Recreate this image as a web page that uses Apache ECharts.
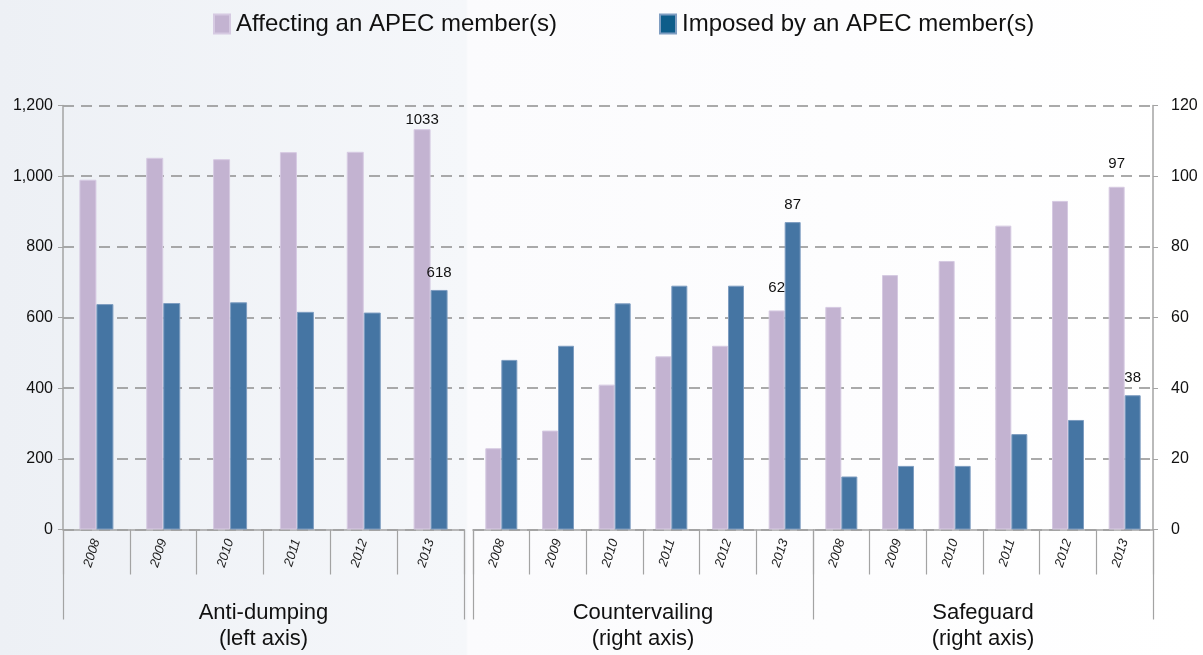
<!DOCTYPE html>
<html>
<head>
<meta charset="utf-8">
<script src="https://cdn.jsdelivr.net/npm/echarts@6/dist/echarts.min.js"></script>
<style>
html, body {
    margin: 0;
    padding: 0;
}
body {
    width: 1203px;
    height: 655px;
    background: linear-gradient(to right, #edf0f5 0px, #f5f7fa 466px, #fbfbfd 468px, #ffffff 1203px);
}
#chart {
    width: 1203px;
    height: 655px;
}
</style>
</head>
<body>
<div id="chart"></div>
<script>
// data
var years = ['2008', '2009', '2010', '2011', '2012', '2013'];
var leftGroups = ['Anti-dumping\n(left axis)'];
var rightGroups = ['Countervailing\n(right axis)', 'Safeguard\n(right axis)'];

var antiAffecting = [990, 1052, 1048, 1068, 1069, 1133];
var antiImposed = [638, 641, 643, 616, 614, 678];
var cvdAffecting = [23, 28, 41, 49, 52, 62];
var cvdImposed = [48, 52, 64, 69, 69, 87];
var sgAffecting = [63, 72, 76, 86, 93, 97];
var sgImposed = [15, 18, 18, 27, 31, 38];

// value labels printed on the chart
var antiAffectingLabels = ['', '', '', '', '', '1033'];
var antiImposedLabels = ['', '', '', '', '', '618'];
var rightAffectingLabels = ['', '', '', '', '', '62', '', '', '', '', '', '97'];
var rightImposedLabels = ['', '', '', '', '', '87', '', '', '', '', '', '38'];

var purple = '#c3b3d1';
var blue = '#4575a3';
var axisGray = '#a3a3a3';
var font = '"Liberation Sans", Arial, sans-serif';

function yearAxis(grid){
    return {
        type: 'category',
        gridIndex: grid,
        position: 'bottom',
        data: years.concat(grid === 1 ? years : []),
        axisLine: { show: true, lineStyle: { color: axisGray, width: 1.5 } },
        axisTick: { show: true, interval: 0, length: 45, lineStyle: { color: axisGray, width: 1.2 } },
        axisLabel: {
            interval: 0,
            rotate: 72,
            margin: 10,
            fontSize: 13,
            fontStyle: 'italic',
            color: '#222',
            fontFamily: font
        }
    };
}

function groupAxis(grid, groups){
    return {
        type: 'category',
        gridIndex: grid,
        position: 'bottom',
        data: groups,
        axisLine: { show: false },
        axisTick: { show: true, interval: 0, length: 90, lineStyle: { color: axisGray, width: 1.2 } },
        axisLabel: {
            interval: 0,
            margin: 70,
            fontSize: 22,
            lineHeight: 26,
            color: '#111',
            fontFamily: font
        }
    };
}

function valueLabel(texts, distance){
    return {
        show: true,
        position: 'top',
        distance: distance,
        fontSize: 15,
        color: '#111',
        fontFamily: font,
        formatter: function(p){ return texts[p.dataIndex]; }
    };
}

var splitLine = {
    show: true,
    lineStyle: { color: '#8f8f8f', type: [11, 7], width: 1.5 }
};

var chart = echarts.init(document.getElementById('chart'));
chart.setOption({
    animation: false,
    textStyle: { fontFamily: font },
    legend: {
        top: 7,
        left: 208,
        icon: 'rect',
        itemWidth: 16,
        itemHeight: 19,
        itemGap: 102,
        textStyle: { fontSize: 24, color: '#111', fontFamily: font, padding: [0, 0, 0, 1] },
        data: [
            { name: 'Affecting an APEC member(s)', itemStyle: { color: purple } },
            { name: 'Imposed by an APEC member(s)', itemStyle: { color: '#0e5d8a' } }
        ]
    },
    grid: [
        { left: 63, right: 739, top: 105.5, bottom: 125.5 },
        { left: 473, right: 50, top: 105.5, bottom: 125.5 }
    ],
    xAxis: [
        yearAxis(0),
        groupAxis(0, leftGroups),
        yearAxis(1),
        groupAxis(1, rightGroups)
    ],
    yAxis: [
        {
            type: 'value',
            gridIndex: 0,
            position: 'left',
            min: 0,
            max: 1200,
            interval: 200,
            axisLine: { show: true, lineStyle: { color: axisGray, width: 1.5 } },
            axisTick: { show: true, length: 5, lineStyle: { color: axisGray } },
            axisLabel: {
                margin: 10,
                fontSize: 16,
                color: '#111',
                fontFamily: font,
                formatter: function(v){ return v.toLocaleString('en-US'); }
            },
            splitLine: splitLine
        },
        {
            type: 'value',
            gridIndex: 1,
            position: 'right',
            min: 0,
            max: 120,
            interval: 20,
            axisLine: { show: true, lineStyle: { color: axisGray, width: 1.5 } },
            axisTick: { show: true, length: 5, lineStyle: { color: axisGray } },
            axisLabel: { margin: 18, fontSize: 16, color: '#111', fontFamily: font },
            splitLine: splitLine
        }
    ],
    series: [
        {
            name: 'Affecting an APEC member(s)',
            type: 'bar',
            xAxisIndex: 0,
            yAxisIndex: 0,
            barWidth: 17,
            barGap: '0%',
            itemStyle: { color: purple, borderColor: '#d6cae2', borderWidth: 1 },
            label: valueLabel(antiAffectingLabels, 2),
            data: antiAffecting
        },
        {
            name: 'Imposed by an APEC member(s)',
            type: 'bar',
            xAxisIndex: 0,
            yAxisIndex: 0,
            barWidth: 17,
            barGap: '0%',
            itemStyle: { color: blue, borderColor: '#7e9dc1', borderWidth: 1 },
            label: valueLabel(antiImposedLabels, 10),
            data: antiImposed
        },
        {
            name: 'Affecting an APEC member(s)',
            type: 'bar',
            xAxisIndex: 2,
            yAxisIndex: 1,
            barWidth: 16,
            barGap: '0%',
            itemStyle: { color: purple, borderColor: '#d6cae2', borderWidth: 1 },
            label: valueLabel(rightAffectingLabels, 15),
            data: cvdAffecting.concat(sgAffecting)
        },
        {
            name: 'Imposed by an APEC member(s)',
            type: 'bar',
            xAxisIndex: 2,
            yAxisIndex: 1,
            barWidth: 16,
            barGap: '0%',
            itemStyle: { color: blue, borderColor: '#7e9dc1', borderWidth: 1 },
            label: valueLabel(rightImposedLabels, 10),
            data: cvdImposed.concat(sgImposed)
        }
    ]
});
</script>
</body>
</html>
